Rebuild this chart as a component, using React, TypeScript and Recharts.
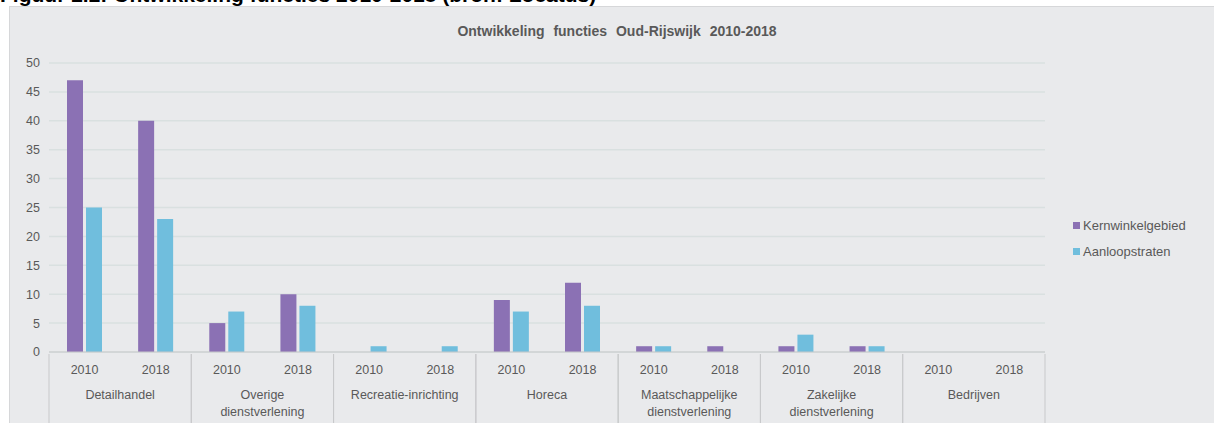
import { Bar, BarChart, CartesianGrid, XAxis, YAxis } from "recharts";

const groups = [
  "Detailhandel",
  "Overige\ndienstverlening",
  "Recreatie-inrichting",
  "Horeca",
  "Maatschappelijke\ndienstverlening",
  "Zakelijke\ndienstverlening",
  "Bedrijven",
];
const years = ["2010", "2018"];
const kernwinkelgebied = [47, 40, 5, 10, 0, 0, 9, 12, 1, 1, 1, 1, 0, 0];
const aanloopstraten = [25, 23, 7, 8, 1, 1, 7, 8, 1, 0, 3, 1, 0, 0];
const yTicks = [0, 5, 10, 15, 20, 25, 30, 35, 40, 45, 50];

const COL_K = "#8B71B4";
const COL_A = "#70BEDD";
const TXT = "#595959";
const LINE = "#C8C9CB";
const FONT = '"Liberation Sans", Arial, sans-serif';

const PLOT_W = 996;
const GROUP_W = PLOT_W / groups.length;

const series = [
  { key: "k", name: "Kernwinkelgebied", color: COL_K },
  { key: "a", name: "Aanloopstraten", color: COL_A },
];

const data = kernwinkelgebied.map((k, i) => ({
  key: `${i}`,
  year: years[i % 2],
  group: groups[Math.floor(i / 2)],
  k,
  a: aanloopstraten[i],
}));

function YearTick({ x, y, payload }: any) {
  return (
    <text x={x} y={y + 14} textAnchor="middle" fontSize={12.5} fill={TXT} fontFamily={FONT}>
      {data[payload.index]?.year}
    </text>
  );
}

function GroupTick({ x, y, payload }: any) {
  const lines = String(payload.value).split("\n");
  return (
    <g>
      <line x1={x - GROUP_W / 2} x2={x - GROUP_W / 2} y1={y - 20} y2={y + 50} stroke={LINE} />
      <line x1={x + GROUP_W / 2} x2={x + GROUP_W / 2} y1={y - 20} y2={y + 50} stroke={LINE} />
      {lines.map((l, i) => (
        <text key={i} x={x} y={y + 25 + i * 17} textAnchor="middle" fontSize={12.5} fill={TXT} fontFamily={FONT}>
          {l}
        </text>
      ))}
    </g>
  );
}

export default function App() {
  return (
    <div style={{ position: "absolute", left: 0, top: 0, width: 1214, height: 423, overflow: "hidden", background: "#fff" }}>
      <div
        style={{
          position: "absolute",
          left: 0,
          top: -17,
          fontFamily: FONT,
          fontWeight: 700,
          fontSize: 21,
          color: "#000",
          whiteSpace: "nowrap",
        }}
      >
        Figuur 2.2: Ontwikkeling functies 2010-2018 (bron: Locatus)
      </div>
      <div
        style={{
          position: "absolute",
          left: 9,
          top: 6,
          width: 1220,
          height: 430,
          background: "#E9EAEC",
          border: "1px solid #D6D7D9",
        }}
      />
      <div
        style={{
          position: "absolute",
          left: 0,
          top: 23,
          width: 1214,
          textAlign: "center",
          fontFamily: FONT,
          fontWeight: 700,
          fontSize: 14,
          wordSpacing: 5,
          color: TXT,
          paddingLeft: 10,
        }}
      >
        Ontwikkeling functies Oud-Rijswijk 2010-2018
      </div>
      <div style={{ position: "absolute", left: 0, top: 0 }}>
        <BarChart
          width={1214}
          height={423}
          data={data}
          margin={{ top: 63, right: 169, left: 9, bottom: 6 }}
          barSize={16}
          barGap={3}
        >
          <CartesianGrid vertical={false} stroke="#D9E0E0" strokeWidth={1.5} />
          <XAxis
            dataKey="key"
            xAxisId={0}
            height={20}
            tickLine={false}
            axisLine={{ stroke: LINE }}
            tick={<YearTick />}
            interval={0}
          />
          <XAxis
            dataKey="group"
            xAxisId="group"
            allowDuplicatedCategory={false}
            height={45}
            tickLine={false}
            tickSize={0}
            axisLine={false}
            tick={<GroupTick />}
            interval={0}
          />
          <YAxis
            domain={[0, 50]}
            ticks={yTicks}
            width={40}
            axisLine={false}
            tickLine={false}
            tickSize={0}
            tickMargin={9}
            tick={{ fontSize: 12.5, fill: TXT, fontFamily: FONT }}
          />
          {series.map((s) => (
            <Bar key={s.key} dataKey={s.key} name={s.name} fill={s.color} isAnimationActive={false} />
          ))}
        </BarChart>
      </div>
      <div style={{ position: "absolute", left: 1073, top: 212, fontFamily: FONT, fontSize: 13, color: TXT }}>
        {series.map((s) => (
          <div key={s.key} style={{ display: "flex", alignItems: "center", height: 26 }}>
            <span style={{ width: 7, height: 7, background: s.color, marginRight: 3, display: "inline-block" }} />
            <span>{s.name}</span>
          </div>
        ))}
      </div>
    </div>
  );
}
